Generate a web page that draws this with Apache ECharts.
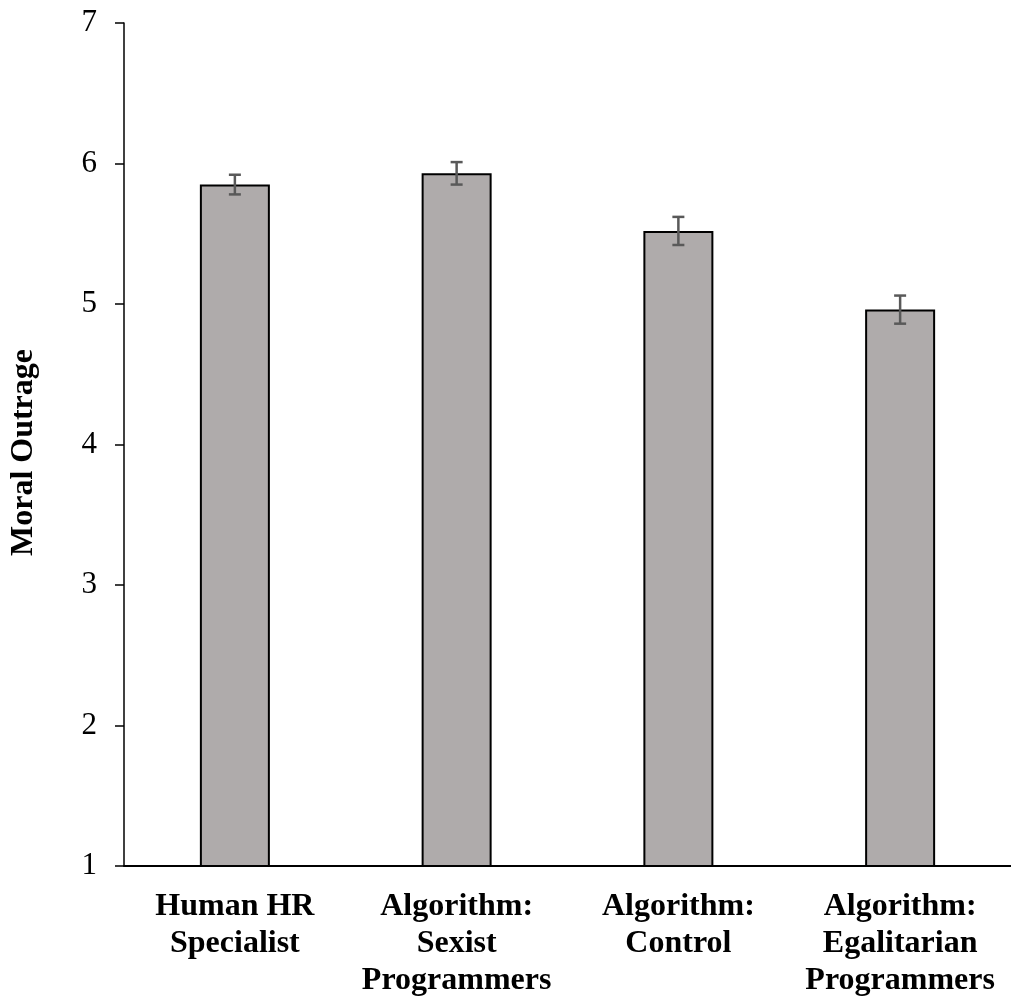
<!DOCTYPE html>
<html>
<head>
<meta charset="utf-8">
<script src="https://cdn.jsdelivr.net/npm/echarts@6/dist/echarts.min.js"></script>
<style>
  html, body { margin: 0; padding: 0; background: #fff; }
  #main { width: 1011px; height: 999px; }
</style>
</head>
<body>
<div id="main"></div>
<script>
// data
const categories = [
    'Human HR\nSpecialist',
    'Algorithm:\nSexist\nProgrammers',
    'Algorithm:\nControl',
    'Algorithm:\nEgalitarian\nProgrammers'
];
const means = [5.85, 5.93, 5.52, 4.96];
const errors = [0.07, 0.08, 0.10, 0.10];
const yTicks = [1, 2, 3, 4, 5, 6, 7];

const FONT = '"Liberation Serif", "Times New Roman", serif';

let chart = echarts.init(document.getElementById('main'));

let errData = means.map(function (m, i) {
    return [i, m - errors[i], m + errors[i]];
});

let option = {
    animation: false,
    backgroundColor: '#ffffff',
    grid: {
        left: 120,
        right: -3,
        top: 23,
        bottom: 127,
        containLabel: false
    },
    xAxis: {
        type: 'category',
        data: categories,
        axisLine: { lineStyle: { color: '#000', width: 2 } },
        axisTick: { show: false },
        axisLabel: {
            interval: 0,
            margin: 22,
            color: '#000',
            fontFamily: FONT,
            fontWeight: 'bold',
            fontSize: 32,
            lineHeight: 37,
            align: 'center'
        }
    },
    yAxis: {
        type: 'value',
        min: yTicks[0],
        max: yTicks[yTicks.length - 1],
        interval: 1,
        name: 'Moral Outrage',
        nameLocation: 'middle',
        nameGap: 84,
        nameRotate: 90,
        nameTextStyle: {
            color: '#000',
            fontFamily: FONT,
            fontWeight: 'bold',
            fontSize: 32,
            padding: [0, 16, 0, 0]
        },
        axisLine: { show: true, lineStyle: { color: '#000', width: 1.5 } },
        axisTick: { show: true, inside: false, length: 9, lineStyle: { color: '#000', width: 1.5 } },
        splitLine: { show: false },
        axisLabel: {
            margin: 27,
            color: '#000',
            fontFamily: FONT,
            fontSize: 31
        }
    },
    series: [
        {
            name: 'Moral Outrage',
            type: 'bar',
            data: means,
            barWidth: 70,
            itemStyle: {
                color: '#AFABAB',
                borderColor: '#000',
                borderWidth: 2
            },
            z: 2
        },
        {
            type: 'custom',
            data: errData,
            z: 5,
            renderItem: function (params, api) {
                let x = api.coord([api.value(0), api.value(1)])[0];
                let lo = api.coord([api.value(0), api.value(1)])[1];
                let hi = api.coord([api.value(0), api.value(2)])[1];
                let cap = 6;
                let style = { stroke: '#595959', lineWidth: 2.5 };
                return {
                    type: 'group',
                    children: [
                        { type: 'line', shape: { x1: x, y1: lo, x2: x, y2: hi }, style: style },
                        { type: 'line', shape: { x1: x - cap, y1: lo, x2: x + cap, y2: lo }, style: style },
                        { type: 'line', shape: { x1: x - cap, y1: hi, x2: x + cap, y2: hi }, style: style }
                    ]
                };
            }
        }
    ]
};

chart.setOption(option);
</script>
</body>
</html>
